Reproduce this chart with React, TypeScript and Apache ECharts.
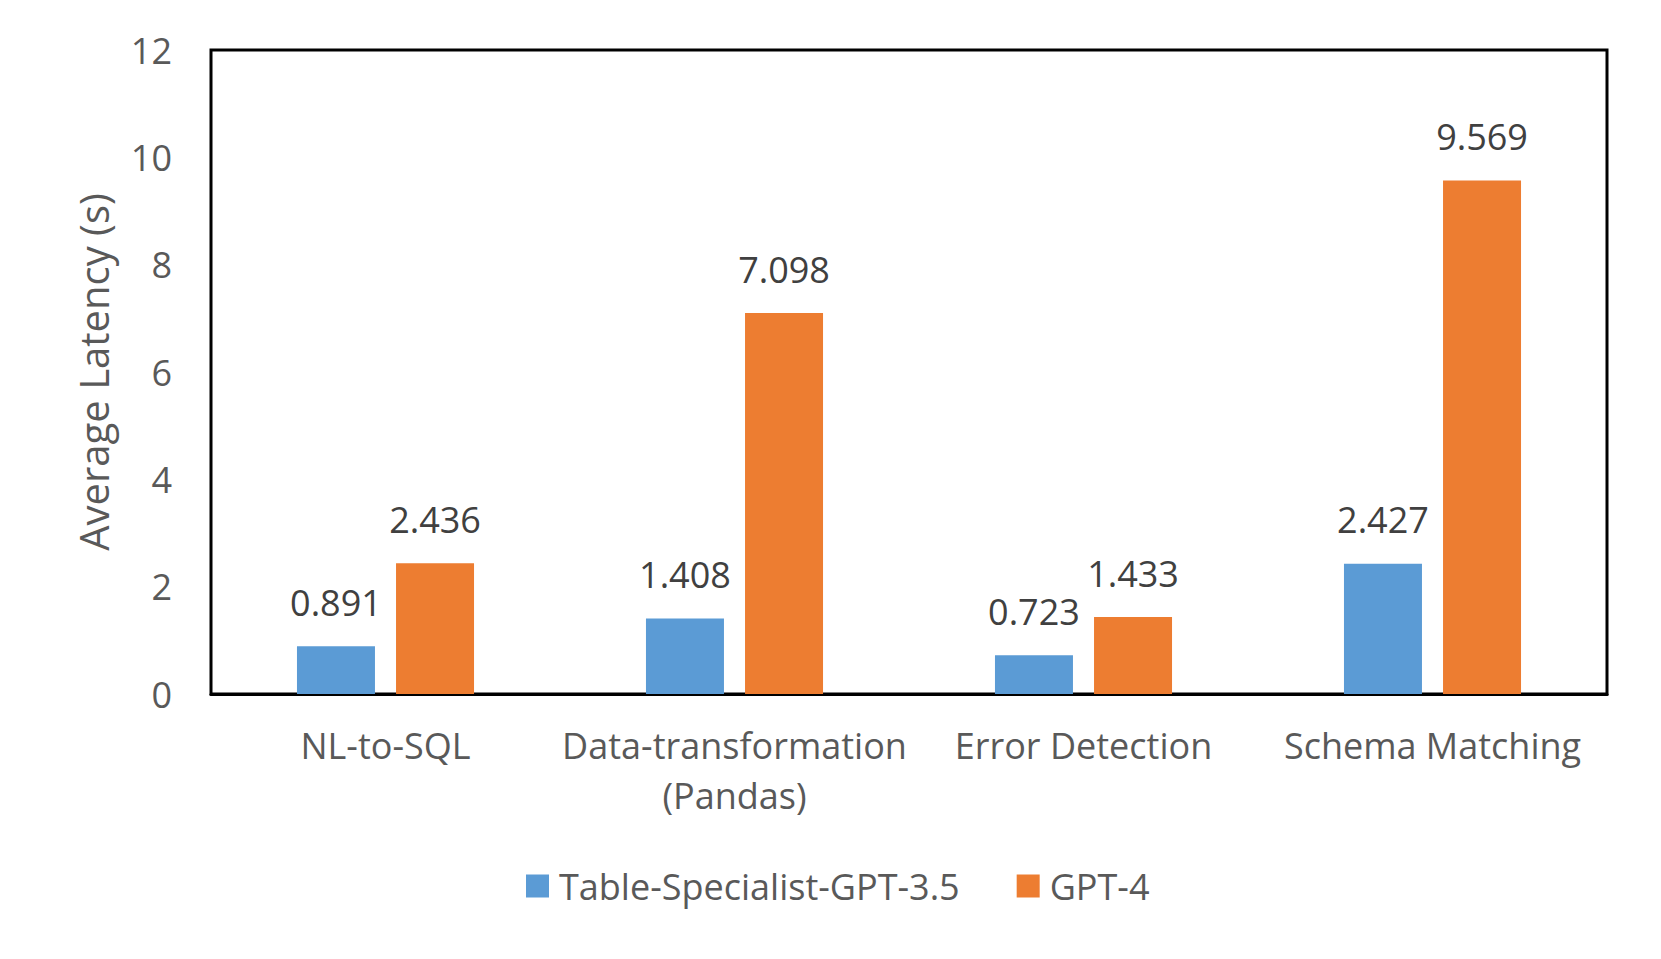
import React, { useEffect, useRef } from "react";
import * as echarts from "echarts";

const categories = ["NL-to-SQL", "Data-transformation\n(Pandas)", "Error Detection", "Schema Matching"];
const seriesNames = ["Table-Specialist-GPT-3.5", "GPT-4"];
const specialistValues = [0.891, 1.408, 0.723, 2.427];
const gpt4Values = [2.436, 7.098, 1.433, 9.569];
const yAxisName = "Average Latency (s)";

const FONT = "'Open Sans', 'Noto Sans', sans-serif";

export default function App() {
  const ref = useRef<HTMLDivElement>(null);
  useEffect(() => {
    if (!ref.current) return;
    const chart = echarts.init(ref.current, null, { renderer: "svg" });
    const labelStyle = {
      show: true,
      position: "top" as const,
      distance: 26,
      fontSize: 36,
      color: "#404040",
      fontFamily: FONT,
      formatter: (p: any) => p.value.toFixed(3),
    };
    chart.setOption({
      animation: false,
      backgroundColor: "#ffffff",
      textStyle: { fontFamily: FONT },
      grid: {
        left: 211,
        right: 54,
        top: 50,
        bottom: 265,
        show: true,
        borderColor: "#000000",
        borderWidth: 3,
        containLabel: false,
      },
      legend: {
        left: 526,
        top: 868,
        padding: 0,
        itemWidth: 23,
        itemHeight: 23,
        itemGap: 57,
        icon: "rect",
        textStyle: { fontSize: 36, color: "#595959", fontFamily: FONT, padding: [0, 0, 0, 5] },
        data: seriesNames,
      },
      xAxis: {
        type: "category",
        data: categories,
        axisLine: { show: true, lineStyle: { color: "#000000", width: 3 } },
        axisTick: { show: false },
        axisLabel: {
          fontSize: 36,
          color: "#595959",
          fontFamily: FONT,
          margin: 26,
          lineHeight: 50,
          interval: 0,
        },
      },
      yAxis: {
        type: "value",
        min: 0,
        max: 12,
        interval: 2,
        name: yAxisName,
        nameLocation: "middle",
        nameGap: 98,
        nameTextStyle: { fontSize: 40, color: "#595959", fontFamily: FONT },
        axisLine: { show: false },
        axisTick: { show: false },
        splitLine: { show: false },
        axisLabel: { fontSize: 36, color: "#595959", fontFamily: FONT, margin: 39 },
      },
      series: [
        {
          name: seriesNames[0],
          type: "bar",
          data: specialistValues,
          barWidth: 78,
          barGap: "27%",
          itemStyle: { color: "#5B9BD5" },
          label: labelStyle,
        },
        {
          name: seriesNames[1],
          type: "bar",
          data: gpt4Values,
          barWidth: 78,
          barGap: "27%",
          itemStyle: { color: "#ED7D31" },
          label: labelStyle,
        },
      ],
    });
    return () => chart.dispose();
  }, []);
  return (
    <div
      ref={ref}
      style={{ position: "fixed", left: 0, top: 0, width: 1661, height: 959, background: "#fff" }}
    />
  );
}
